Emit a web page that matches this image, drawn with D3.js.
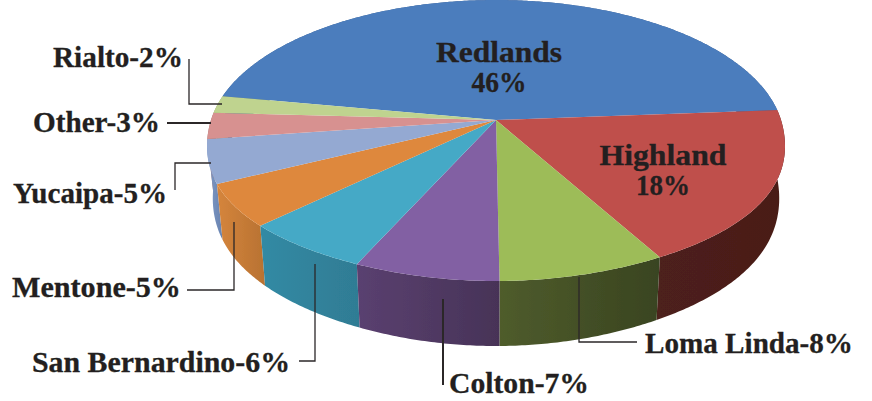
<!DOCTYPE html>
<html>
<head>
<meta charset="utf-8">
<script src="https://cdn.jsdelivr.net/npm/d3@7"></script>
<style>
    html, body { margin: 0; padding: 0; background: #fff; }
    text { font-family: "Liberation Serif", serif; font-weight: bold; fill: #231f20; stroke: #231f20; stroke-width: 0.3px; }
</style>
</head>
<body>
<svg id="chart" width="872" height="401"></svg>
<script>
// chart data
var cities = ["Redlands", "Highland", "Loma Linda", "Colton", "San Bernardino", "Mentone", "Yucaipa", "Other", "Rialto"];
var shares = [46, 18, 8, 7, 6, 5, 5, 3, 2];

// colours per slice: top face, wall left, wall right
var topColors = ["#4c7dbd", "#bf4f4c", "#9dbc58", "#8260a3", "#45a9c6", "#de883d", "#94a9d2", "#d79190", "#bfd38f"];
var wallLight = ["#3a5f90", "#4d201b", "#4f5c2c", "#5a4070", "#338aa4", "#d5853c", "#7f9ac6", "#a06e6d", "#8f9e6b"];
var wallDark = ["#3a5f90", "#4a1d18", "#394420", "#473357", "#2f7c94", "#b87232", "#6883b0", "#a06e6d", "#8f9e6b"];

// label placement, same order as cities. inside labels have two lines
var labelPos = [
    { x: 499, y: 62, width: 126, width2: 55, y2: 92, inside: true },
    { x: 663, y: 164.5, width: 127, width2: 54, y2: 195, inside: true },
    { x: 645, y: 353, width: 208 },
    { x: 449, y: 393, width: 140 },
    { x: 32, y: 372, width: 258 },
    { x: 12, y: 297, width: 169 },
    { x: 13, y: 203, width: 154 },
    { x: 33, y: 132, width: 127 },
    { x: 53, y: 67, width: 130 }
];

// leader lines
var leaders = [
    [[579, 277], [579, 342], [637, 342]],
    [[443, 299], [443, 385]],
    [[299, 361], [315, 361], [315, 264]],
    [[187, 290], [234, 290], [234, 222]],
    [[175, 190], [175, 163], [211, 163]],
    [[167, 123], [211, 123]],
    [[189, 59], [189, 104], [222, 104]]
];

var svg = d3.select("#chart");

// properties of the tilted pie
var centerX = 496;
var centerY = 120;
var radiusX = 285;
var radiusY = 137.5;
var tilt = 0.146;
// blue slice starts a bit above the left side, angles run clockwise from the top
var startAngle = -79.8 * Math.PI / 180;

// point on the top rim, far side is squeezed by the perspective
function topRim(a) {
    var u = Math.sin(a);
    var v = -Math.cos(a);
    var w = 1 - tilt * v;
    // front half of the original is a bit fuller than a true ellipse
    var full = v > 0 ? 1 + 0.03 * Math.pow(2 * u * v, 2) : 1;
    return [centerX + radiusX * full * u / w, centerY + radiusY * v / w];
}

// same point on the bottom rim
function bottomRim(a) {
    var p = topRim(a);
    return [centerX + 0.98 * (p[0] - centerX), 1.094 * p[1] + 38.6];
}

function rimPoints(rim, a0, a1) {
    var n = Math.max(2, Math.ceil((a1 - a0) / 0.01));
    return d3.range(n + 1).map(function (i) {
        return rim(a0 + (a1 - a0) * i / n);
    });
}

var line = d3.line();

var pie = d3.pie()
    .sort(null)
    .startAngle(startAngle)
    .endAngle(startAngle + 2 * Math.PI);

var slices = pie(shares);

// soft edges like the scanned original
var defs = svg.append("defs");
defs.append("filter")
    .attr("id", "soft")
    .append("feGaussianBlur")
    .attr("stdDeviation", 0.45);

slices.forEach(function (d, i) {
    var grad = defs.append("linearGradient")
        .attr("id", "wall" + i);
    grad.append("stop").attr("offset", "0%").attr("stop-color", wallLight[i]);
    grad.append("stop").attr("offset", "100%").attr("stop-color", wallDark[i]);
});

var marks = svg.append("g").attr("filter", "url(#soft)");

// walls first, back to front, the top faces cover the rest
var wallOrder = slices.slice().sort(function (a, b) {
    return -Math.cos((a.startAngle + a.endAngle) / 2) - -Math.cos((b.startAngle + b.endAngle) / 2);
});

marks.selectAll(".wall")
    .data(wallOrder)
    .enter()
    .append("path")
    .attr("class", "wall")
    .attr("d", function (d) {
        var upper = rimPoints(topRim, d.startAngle, d.endAngle);
        var lower = rimPoints(bottomRim, d.startAngle, d.endAngle).reverse();
        return line(upper.concat(lower)) + "Z";
    })
    .attr("fill", function (d) { return "url(#wall" + d.index + ")"; });

marks.selectAll(".slice")
    .data(slices)
    .enter()
    .append("path")
    .attr("class", "slice")
    .attr("d", function (d) {
        return line([[centerX, centerY]].concat(rimPoints(topRim, d.startAngle, d.endAngle))) + "Z";
    })
    .attr("fill", function (d) { return topColors[d.index]; });

// leader lines
svg.selectAll(".leader")
    .data(leaders)
    .enter()
    .append("path")
    .attr("class", "leader")
    .attr("d", line)
    .attr("fill", "none")
    .attr("stroke", "#2b2728")
    .attr("stroke-width", function (d, i) { return i == 1 || i == 5 ? 2 : 1.3; });

// labels
cities.forEach(function (city, i) {
    var pos = labelPos[i];
    if (pos.inside) {
        svg.append("text")
            .attr("x", pos.x)
            .attr("y", pos.y)
            .attr("text-anchor", "middle")
            .attr("font-size", 30)
            .attr("textLength", pos.width)
            .attr("lengthAdjust", "spacingAndGlyphs")
            .text(city);
        svg.append("text")
            .attr("x", pos.x)
            .attr("y", pos.y2)
            .attr("text-anchor", "middle")
            .attr("font-size", 30)
            .attr("textLength", pos.width2)
            .attr("lengthAdjust", "spacingAndGlyphs")
            .text(shares[i] + "%");
    } else {
        svg.append("text")
            .attr("x", pos.x)
            .attr("y", pos.y)
            .attr("font-size", 30)
            .attr("textLength", pos.width)
            .attr("lengthAdjust", "spacingAndGlyphs")
            .text(city + "-" + shares[i] + "%");
    }
});
</script>
</body>
</html>
